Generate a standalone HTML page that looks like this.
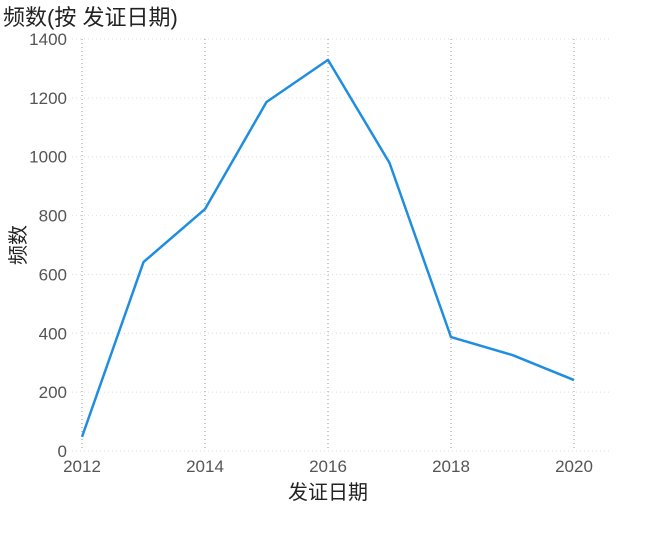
<!DOCTYPE html>
<html><head><meta charset="utf-8"><style>
body{margin:0;background:#fff;width:646px;height:537px;overflow:hidden}
svg text{font-family:"Liberation Sans","Noto Sans CJK SC",sans-serif}
</style></head><body>
<svg id="chart" width="646" height="537" xmlns="http://www.w3.org/2000/svg">
<text x="3" y="25" font-size="22" fill="#222">频数(按 发证日期)</text>
<g id="grid"></g>
<g id="axes"></g>
<path id="line" fill="none" stroke="#1f8ee0" stroke-width="2.5" stroke-linejoin="round"/>
<text x="328" y="499" font-size="20" fill="#222" text-anchor="middle">发证日期</text>
<text transform="translate(25,245) rotate(-90)" font-size="20" fill="#222" text-anchor="middle">频数</text>
</svg>
<script>
const years=[2012,2013,2014,2015,2016,2017,2018,2019,2020];
const counts=[48,642,822,1186,1329,979,387,326,241];
const yTicks=[0,200,400,600,800,1000,1200,1400];
const xTicks=[2012,2014,2016,2018,2020];
const ns="http://www.w3.org/2000/svg";
const X=v=>82+(v-2012)*61.5;
const Y=v=>451-v*412/1400;
const grid=document.getElementById('grid'),axes=document.getElementById('axes');
function mk(tag,attrs,parent){const e=document.createElementNS(ns,tag);for(const k in attrs)e.setAttribute(k,attrs[k]);parent.appendChild(e);return e;}
yTicks.forEach(t=>{
 const l=mk('line',{x1:72,x2:610,y1:Y(t),y2:Y(t),stroke:'#ddd','stroke-dasharray':'1,3'},grid);
 
 
 const tx=mk('text',{x:67,y:Y(t)+6,'font-size':17,fill:'#555','text-anchor':'end'},axes);
 
 
 tx.textContent=t;
});
xTicks.forEach(t=>{
 const l=mk('line',{x1:X(t),x2:X(t),y1:Y(1400),y2:Y(0),stroke:'#999','stroke-dasharray':'1,3'},grid);
 
 
 const tx=mk('text',{x:X(t),y:472,'font-size':17,fill:'#555','text-anchor':'middle'},axes);
 
 
 tx.textContent=t;
});
document.getElementById('line').setAttribute('d',years.map((y,i)=>(i?'L':'M')+X(y)+','+Y(counts[i])).join(''));
</script>
</body></html>
